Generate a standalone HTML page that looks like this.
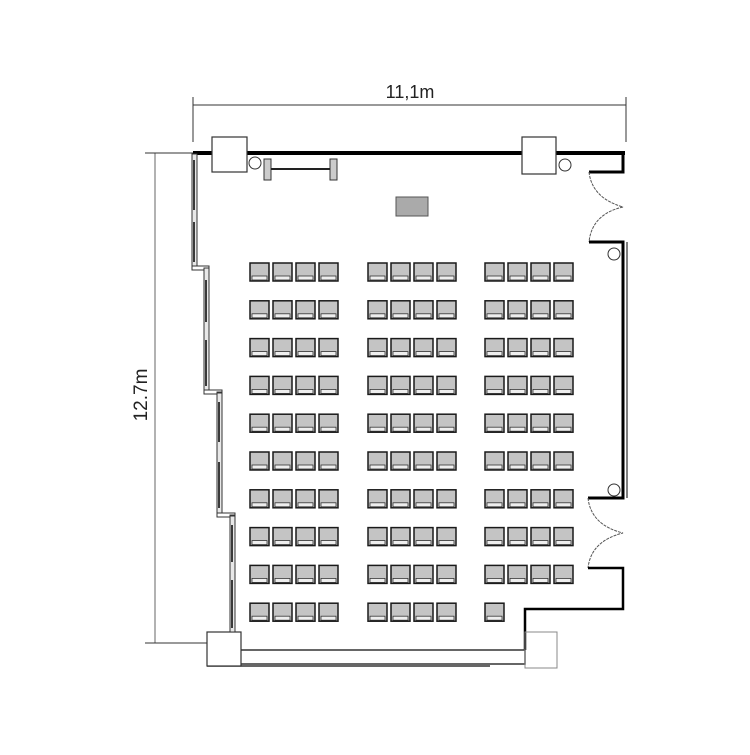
<!DOCTYPE html>
<html><head><style>html,body{margin:0;padding:0;background:#fff}</style></head>
<body>
<svg width="750" height="750" viewBox="0 0 750 750" xmlns="http://www.w3.org/2000/svg" font-family="Liberation Sans, sans-serif">
<rect width="750" height="750" fill="#fff"/>
<line x1="193" y1="105" x2="626" y2="105" stroke="#333" stroke-width="1"/>
<line x1="193" y1="97" x2="193" y2="142" stroke="#333"/>
<line x1="626" y1="97" x2="626" y2="142" stroke="#333"/>
<text x="410" y="98" font-size="18" text-anchor="middle" fill="#222">11,1m</text>
<line x1="155" y1="153" x2="155" y2="643" stroke="#999" stroke-width="1.5"/>
<line x1="145" y1="153" x2="193" y2="153" stroke="#333"/>
<line x1="145" y1="643" x2="207" y2="643" stroke="#333"/>
<text x="0" y="0" font-size="19" text-anchor="middle" fill="#222" transform="translate(147,395) rotate(-90)">12.7m</text>
<line x1="193" y1="153" x2="213" y2="153" stroke="#000" stroke-width="4"/>
<line x1="246" y1="153" x2="523" y2="153" stroke="#000" stroke-width="4"/>
<line x1="555" y1="153" x2="625" y2="153" stroke="#000" stroke-width="4"/>
<rect x="212" y="137" width="35" height="35" fill="#fff" stroke="#333" stroke-width="1.2"/>
<rect x="522" y="137" width="34" height="37" fill="#fff" stroke="#333" stroke-width="1.2"/>
<circle cx="255" cy="163" r="6" fill="#fff" stroke="#333"/>
<circle cx="565" cy="165" r="6" fill="#fff" stroke="#333"/>
<rect x="264" y="159" width="7" height="21" fill="#ccc" stroke="#333"/>
<rect x="330" y="159" width="7" height="21" fill="#ccc" stroke="#333"/>
<line x1="271" y1="169" x2="330" y2="169" stroke="#222" stroke-width="2"/>
<rect x="396" y="197" width="32" height="19" fill="#aaa" stroke="#555"/>
<polyline points="623,153 623,172 589,172" fill="none" stroke="#000" stroke-width="3"/>
<path d="M589,172 Q592,198 623,207 Q592,214 589,242" fill="none" stroke="#555" stroke-width="1" stroke-dasharray="3,1"/>
<polyline points="589,242 623,242 623,498 588,498" fill="none" stroke="#000" stroke-width="3"/>
<line x1="627" y1="242" x2="627" y2="498" stroke="#000" stroke-width="1"/>
<circle cx="614" cy="254" r="6" fill="#fff" stroke="#333"/>
<circle cx="614" cy="490" r="6" fill="#fff" stroke="#333"/>
<path d="M588,498 Q591,525 623,533 Q591,541 588,568" fill="none" stroke="#555" stroke-width="1" stroke-dasharray="3,1"/>
<polyline points="588,568 623,568 623,609 525,609 525,650" fill="none" stroke="#000" stroke-width="2.5"/>
<rect x="240" y="650" width="285" height="14" fill="#fff" stroke="#333" stroke-width="1.5"/>
<line x1="207" y1="666" x2="490" y2="666" stroke="#333" stroke-width="1.5"/>
<rect x="207" y="632" width="34" height="34" fill="#fff" stroke="#333" stroke-width="1.2"/>
<rect x="525" y="632" width="32" height="36" fill="none" stroke="#888" stroke-width="1"/>
<g fill="#e8e8e8" stroke="#333" stroke-width="1">
<rect x="192" y="154" width="5" height="112"/>
<rect x="204" y="268" width="5" height="122"/>
<rect x="217" y="393" width="5" height="120"/>
<rect x="230" y="516" width="5" height="116"/>
</g>
<polyline points="192,266 192,270 204,270 204,268 209,268 209,266 197,266" fill="none" stroke="#333"/>
<polyline points="204,390 204,394 217,394 217,392 222,392 222,390 209,390" fill="none" stroke="#333"/>
<polyline points="217,513 217,517 230,517 230,515 235,515 235,513 222,513" fill="none" stroke="#333"/>
<g stroke="#000" stroke-width="1.5">
<line x1="194" y1="160" x2="194" y2="210"/><line x1="194" y1="222" x2="194" y2="262"/>
<line x1="206" y1="280" x2="206" y2="322"/><line x1="206" y1="340" x2="206" y2="386"/>
<line x1="219" y1="402" x2="219" y2="442"/><line x1="219" y1="462" x2="219" y2="508"/>
<line x1="232" y1="525" x2="232" y2="562"/><line x1="232" y1="580" x2="232" y2="628"/>
</g>
<defs>
<g id="c">
<rect x="0" y="0" width="19" height="18" fill="#c4c4c4" stroke="#1a1a1a" stroke-width="1.5"/>
<rect x="2" y="13" width="15" height="4" fill="#eee" stroke="#333" stroke-width="0.8"/>
</g>
</defs>
<g id="chairs"></g>
<script>
var g=document.getElementById('chairs');var xs=[250,273,296,319,368,391,414,437,485,508,531,554];
for(var r=0;r<10;r++){var y=263+r*37.8;for(var i=0;i<12;i++){if(r==9&&i>8)continue;var u=document.createElementNS('http://www.w3.org/2000/svg','use');u.setAttribute('href','#c');u.setAttribute('x',xs[i]);u.setAttribute('y',y.toFixed(1));g.appendChild(u);}}
</script>
</svg>
</body></html>
